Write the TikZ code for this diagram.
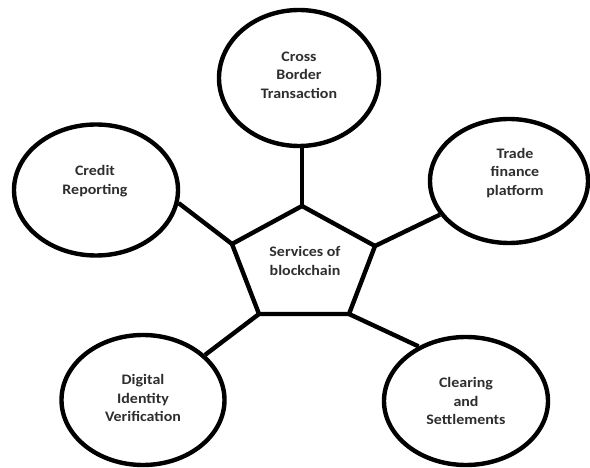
\documentclass[tikz,border=0pt]{standalone}
\usepackage{fontspec}
\setmainfont{Carlito}[FakeStretch=1.1]
\usetikzlibrary{shapes.geometric}
\begin{document}
\begin{tikzpicture}[x=1pt,y=-1pt,
  bubble/.style={ellipse, draw=black, line width=4.4pt, fill=white, inner sep=0pt},
  lbl/.style={font=\fontsize{14.5}{18.5}\selectfont\bfseries, text=black!82, align=center},
  link/.style={draw=black, line width=4.4pt}]
\useasboundingbox (0,0) rectangle (590,468);

% corners of the central pentagon
\coordinate (pt) at (302,206);
\coordinate (pl) at (232,244);
\coordinate (pr) at (375,246);
\coordinate (pbr) at (349,314);
\coordinate (pbl) at (259,314);

% service bubbles
\node[bubble, minimum width=160pt, minimum height=136pt] (cross) at (299,78) {};
\node[bubble, minimum width=164pt, minimum height=131pt] (credit) at (96,190) {};
\node[bubble, minimum width=158pt, minimum height=124pt] (trade) at (509,181) {};
\node[bubble, minimum width=163pt, minimum height=130pt] (digital) at (143,400) {};
\node[bubble, minimum width=164pt, minimum height=128pt] (clearing) at (466,401) {};

% spokes from the pentagon to the bubbles
\draw[link] (pt) -- (pt |- cross.south);
\draw[link] (pl) -- (credit.-9);
\draw[link] (pr) -- (trade.-154);
\draw[link] (pbl) -- (digital.36);
\draw[link] (pbr) -- (clearing.131);

% central pentagon
\draw[link, fill=white, line join=miter] (pt) -- (pr) -- (pbr) -- (pbl) -- (pl) -- cycle;

% labels
\node[lbl] (hub) at (305,261) {Services of\\blockchain};
\node[lbl] (crosst) at (299,75) {Cross\\Border\\Transaction};
\node[lbl] (creditt) at (95,181) {Credit\\Reporting};
\node[lbl] (tradet) at (515,173) {Trade\\finance\\platform};
\node[lbl] (digitalt) at (143,398) {Digital\\Identity\\Verification};
\node[lbl] (clearingt) at (466,401) {Clearing\\and\\Settlements};
\end{tikzpicture}
\end{document}
